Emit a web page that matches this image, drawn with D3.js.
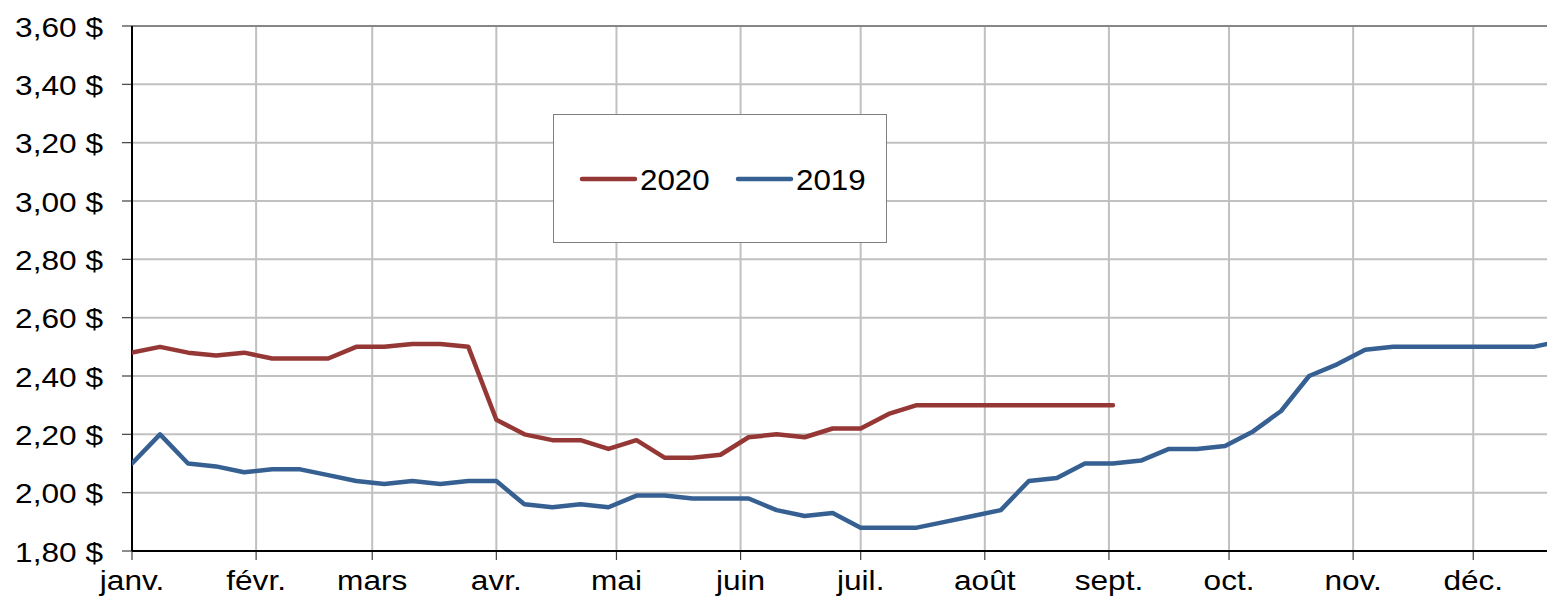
<!DOCTYPE html>
<html>
<head>
<meta charset="utf-8">
<script src="https://cdn.jsdelivr.net/npm/d3@7"></script>
<style>
  html, body { margin: 0; padding: 0; background: #fff; }
  svg text { font-family: "Liberation Sans", Arial, sans-serif; fill: #000; }
</style>
</head>
<body>
<svg id="chart" width="1547" height="597"></svg>
<script>
// weekly dates (2019 values are plotted on the same calendar)
var weeks = [
  '2020-01-01','2020-01-08','2020-01-15','2020-01-22','2020-01-29',
  '2020-02-05','2020-02-12','2020-02-19','2020-02-26',
  '2020-03-04','2020-03-11','2020-03-18','2020-03-25',
  '2020-04-01','2020-04-08','2020-04-15','2020-04-22','2020-04-29',
  '2020-05-06','2020-05-13','2020-05-20','2020-05-27',
  '2020-06-03','2020-06-10','2020-06-17','2020-06-24',
  '2020-07-01','2020-07-08','2020-07-15','2020-07-22','2020-07-29',
  '2020-08-05','2020-08-12','2020-08-19','2020-08-26',
  '2020-09-02','2020-09-09','2020-09-16','2020-09-23','2020-09-30',
  '2020-10-07','2020-10-14','2020-10-21','2020-10-28',
  '2020-11-04','2020-11-11','2020-11-18','2020-11-25',
  '2020-12-02','2020-12-09','2020-12-16','2020-12-23'
];

var prices2020 = [
  2.48, 2.50, 2.48, 2.47, 2.48, 2.46, 2.46, 2.46, 2.50, 2.50,
  2.51, 2.51, 2.50, 2.25, 2.20, 2.18, 2.18, 2.15, 2.18, 2.12,
  2.12, 2.13, 2.19, 2.20, 2.19, 2.22, 2.22, 2.27, 2.30, 2.30,
  2.30, 2.30, 2.30, 2.30, 2.30, 2.30
];

var prices2019 = [
  2.10, 2.20, 2.10, 2.09, 2.07, 2.08, 2.08, 2.06, 2.04, 2.03,
  2.04, 2.03, 2.04, 2.04, 1.96, 1.95, 1.96, 1.95, 1.99, 1.99,
  1.98, 1.98, 1.98, 1.94, 1.92, 1.93, 1.88, 1.88, 1.88, 1.90,
  1.92, 1.94, 2.04, 2.05, 2.10, 2.10, 2.11, 2.15, 2.15, 2.16,
  2.21, 2.28, 2.40, 2.44, 2.49, 2.50, 2.50, 2.50, 2.50, 2.50,
  2.50, 2.52
];

var monthLabels = ['janv.', 'févr.', 'mars', 'avr.', 'mai', 'juin',
  'juil.', 'août', 'sept.', 'oct.', 'nov.', 'déc.'];

var yTicks = [1.80, 2.00, 2.20, 2.40, 2.60, 2.80, 3.00, 3.20, 3.40, 3.60];

var seriesNames = ['2020', '2019'];
var colors = { '2020': '#953735', '2019': '#366092' };

var width = 1547, height = 597;
var margin = { top: 26, right: 0, bottom: 46, left: 132 };

var parse = d3.utcParse('%Y-%m-%d');
var dates = weeks.map(parse);

var svg = d3.select('#chart');

var x = d3.scaleUtc()
  .domain([parse('2020-01-01'), new Date(Date.UTC(2020, 11, 19, 10))])
  .range([margin.left, width - margin.right]);

var y = d3.scaleLinear()
  .domain([1.8, 3.6])
  .range([height - margin.bottom, margin.top]);

var monthTicks = d3.utcMonth.range(parse('2020-01-01'), parse('2021-01-01'));

// grid
var grid = svg.append('g').attr('class', 'grid');
grid.selectAll('line.h')
  .data(yTicks.slice(1, -1))
  .join('line')
  .attr('class', 'h')
  .attr('x1', margin.left).attr('x2', width)
  .attr('y1', function(d) { return y(d); })
  .attr('y2', function(d) { return y(d); })
  .attr('stroke', '#c0c0c0').attr('stroke-width', 2);

grid.selectAll('line.v')
  .data(monthTicks.slice(1))
  .join('line')
  .attr('class', 'v')
  .attr('x1', function(d) { return x(d); })
  .attr('x2', function(d) { return x(d); })
  .attr('y1', margin.top).attr('y2', height - margin.bottom)
  .attr('stroke', '#c0c0c0').attr('stroke-width', 2);

// top border
svg.append('line')
  .attr('x1', margin.left).attr('x2', width)
  .attr('y1', margin.top).attr('y2', margin.top)
  .attr('stroke', '#868686').attr('stroke-width', 2);

// y axis
var fmt = function(d) { return d3.format('.2f')(d).replace('.', ',') + ' $'; };
var yAxis = svg.append('g');
yAxis.selectAll('line')
  .data(yTicks)
  .join('line')
  .attr('x1', margin.left - 10).attr('x2', margin.left)
  .attr('y1', function(d) { return y(d); })
  .attr('y2', function(d) { return y(d); })
  .attr('stroke', '#404040').attr('stroke-width', 1.2);
yAxis.selectAll('text')
  .data(yTicks)
  .join('text')
  .attr('text-anchor', 'end')
  .attr('dominant-baseline', 'central')
  .attr('font-size', 27.5)
  .attr('transform', function(d) { return 'translate(103,' + (y(d) + 1) + ') scale(1.15,1)'; })
  .text(fmt);

// x axis
var xAxis = svg.append('g');
xAxis.selectAll('line')
  .data(monthTicks)
  .join('line')
  .attr('x1', function(d) { return x(d); })
  .attr('x2', function(d) { return x(d); })
  .attr('y1', height - margin.bottom).attr('y2', height - margin.bottom + 9)
  .attr('stroke', '#404040').attr('stroke-width', 1.2);
xAxis.selectAll('text')
  .data(monthTicks)
  .join('text')
  .attr('text-anchor', 'middle')
  .attr('font-size', 27.5)
  .attr('transform', function(d) { return 'translate(' + x(d) + ',590) scale(1.15,1)'; })
  .text(function(d, i) { return monthLabels[i]; });

svg.append('line')
  .attr('x1', margin.left).attr('x2', width)
  .attr('y1', height - margin.bottom).attr('y2', height - margin.bottom)
  .attr('stroke', '#000').attr('stroke-width', 2);
svg.append('line')
  .attr('x1', margin.left).attr('x2', margin.left)
  .attr('y1', margin.top).attr('y2', height - margin.bottom)
  .attr('stroke', '#000').attr('stroke-width', 2);

// lines
svg.append('clipPath').attr('id', 'plot-clip')
  .append('rect')
  .attr('x', margin.left).attr('y', margin.top)
  .attr('width', width - margin.left - margin.right)
  .attr('height', height - margin.top - margin.bottom);

var line = d3.line()
  .x(function(d) { return x(d.date); })
  .y(function(d) { return y(d.value); });

var series = [
  { name: '2019', values: prices2019 },
  { name: '2020', values: prices2020 }
];

svg.append('g')
  .attr('clip-path', 'url(#plot-clip)')
  .selectAll('path')
  .data(series)
  .join('path')
  .attr('fill', 'none')
  .attr('stroke', function(d) { return colors[d.name]; })
  .attr('stroke-width', 4.5)
  .attr('stroke-linejoin', 'round')
  .attr('stroke-linecap', 'round')
  .attr('d', function(d) {
    return line(d.values.map(function(v, i) { return { date: dates[i], value: v }; }));
  });

// legend
var legend = svg.append('g');
legend.append('rect')
  .attr('x', 553.5).attr('y', 114.5)
  .attr('width', 333).attr('height', 128)
  .attr('fill', '#fff')
  .attr('stroke', '#7f7f7f').attr('stroke-width', 1);

var entries = legend.selectAll('g')
  .data(seriesNames)
  .join('g')
  .attr('transform', function(d, i) { return 'translate(' + (582 + i * 156) + ',179)'; });
entries.append('line')
  .attr('x1', 0).attr('x2', 53)
  .attr('stroke', function(d) { return colors[d]; })
  .attr('stroke-width', 4.5)
  .attr('stroke-linecap', 'round');
entries.append('text')
  .attr('transform', 'translate(58,11) scale(1.08,1)')
  .attr('font-size', 29)
  .text(function(d) { return d; });
</script>
</body>
</html>
